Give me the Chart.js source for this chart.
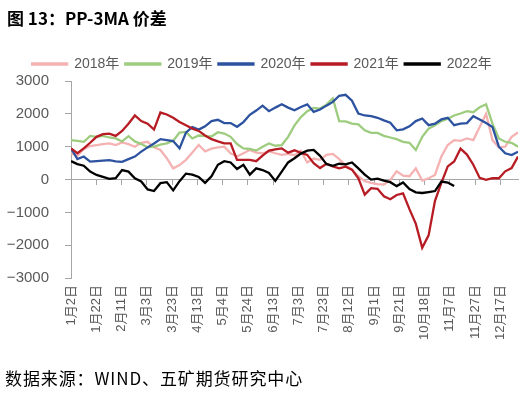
<!DOCTYPE html>
<html>
<head>
<meta charset="utf-8">
<script src="https://cdn.jsdelivr.net/npm/chart.js@4.4.1/dist/chart.umd.min.js"></script>
<style>
  body { margin: 0; background: #fff; }
  #wrap { position: relative; width: 530px; height: 398px; }
  canvas { position: absolute; left: 0; top: 0; }
  #title { position: absolute; left: 7px; top: 5px; font: bold 17px "Noto Sans CJK SC", sans-serif; color: #000; }
  #source { position: absolute; left: 5px; top: 365px; font: 17px "Noto Sans CJK SC", sans-serif; letter-spacing: 0.9px; color: #000; }
</style>
</head>
<body>
<div id="wrap">
  <canvas id="grafico-pp" width="530" height="398"></canvas>
  <div id="title">图 13：PP-3MA 价差</div>
  <div id="source">数据来源：WIND、五矿期货研究中心</div>
</div>
<script>
// tick labels every 20 trading days
var tickLabels = ['1月2日', '1月22日', '2月11日', '3月3日', '3月23日', '4月13日', '5月4日', '5月24日', '6月13日',
                  '7月3日', '7月23日', '8月12日', '9月1日', '9月21日', '10月18日', '11月7日', '11月27日', '12月17日'];
var lastDay = 354;
var step = lastDay / 70; // one value read about every 5 days

var years = ['2018年', '2019年', '2020年', '2021年', '2022年'];
var cores = ['#F4B2B2', '#9DCC7E', '#2C52A0', '#B71C24', '#000000'];

var v2018 = [800, 720, 930, 1020, 1050, 1080, 1100, 1050, 1130, 1080,
             1000, 1120, 1150, 980, 900, 650, 340, 440, 600, 820,
             1050, 860, 940, 980, 1000, 800, 700, 800, 900, 820,
             800, 860, 800, 750, 780, 740, 870, 520, 640, 600,
             750, 780, 620, 430, 300, 100, -50, -100, -140, -150,
             -10, 250, 120, 100, 340, -30, 40, 140, 700, 1050,
             1200, 1180, 1250, 1200, 1600, 2000, 1200, 980, 1000, 1300, 1430];
var v2019 = [1200, 1180, 1150, 1330, 1300, 1330, 1280, 1250, 1160, 1320,
             1160, 1080, 980, 1000, 1060, 1100, 1180, 1430, 1450, 1250,
             1340, 1320, 1310, 1440, 1400, 1300, 1080, 950, 930, 880,
             1000, 1100, 1030, 1050, 1300, 1650, 1900, 2080, 2180, 2160,
             2280, 2470, 1780, 1770, 1700, 1680, 1500, 1420, 1420, 1330,
             1280, 1230, 1150, 1120, 900, 1300, 1550, 1650, 1780, 1850,
             1950, 2010, 2080, 2050, 2200, 2290, 1700, 1250, 1150, 1120, 1000];
var v2020 = [950, 620, 700, 545, 560, 575, 590, 550, 540, 620,
             700, 850, 980, 1100, 1230, 1200, 1170, 950, 1430, 1600,
             1520, 1620, 1780, 1820, 1720, 1720, 1606, 1750, 1970, 2100,
             2250, 2080, 2190, 2290, 2190, 2110, 2210, 2290, 2060, 2130,
             2250, 2363, 2550, 2580, 2400, 2010, 1950, 1930, 1880, 1800,
             1730, 1500, 1530, 1620, 1780, 1858, 1656, 1700, 1830, 1880,
             1656, 1700, 1720, 1930, 1830, 1720, 1600, 1000, 798, 747, 848];
var v2021 = [950, 800, 950, 1120, 1300, 1380, 1400, 1330, 1480, 1700,
             1950, 1780, 1700, 1520, 2040, 1980, 1880, 1750, 1650, 1550,
             1480, 1340, 1230, 1160, 1100, 1100, 600, 596, 600, 560,
             730, 880, 920, 950, 820, 890, 810, 750, 500, 350,
             480, 400, 340, 390, 300, 40, -460, -260, -280, -510,
             -600, -470, -420, -900, -1350, -2080, -1700, -650, -100, 400,
             550, 940, 760, 450, 50, -10, 40, 40, 250, 350, 700];
var v2022 = [560, 470, 420, 242, 140, 80, 20, 40, 290, 240,
             40, -60, -300, -350, -110, -80, -330, -50, 180, 150,
             80, -100, 100, 450, 560, 520, 320, 450, 150, 340,
             290, 200, -40, 240, 520, 650, 790, 880, 900, 720,
             470, 420, 480, 460, 520, 340, 150, 0, 30, -30,
             -80, -200, -90, -290, -390, -410, -380, -350, -60, -90, -200];

var series = [v2018, v2019, v2020, v2021, v2022];
var fonte = '"Liberation Sans", "Noto Sans CJK SC", sans-serif';
var cinza = '#595959';
var eixo = '#A6A6A6';

var datasets = series.map(function (vals, k) {
    return {
        label: years[k],
        data: vals.map(function (v, i) { return { x: i * step, y: v }; }),
        borderColor: cores[k],
        backgroundColor: cores[k],
        borderWidth: 2.3,
        pointRadius: 0,
        tension: 0,
        fill: false,
        xAxisID: 'x',
        order: 5 - k // 2022 drawn on top
    };
});

var ctx = document.getElementById('grafico-pp').getContext('2d');
var meuGrafico = new Chart(ctx, {
    type: 'line',
    data: { datasets: datasets },
    options: {
        responsive: false,
        animation: false,
        layout: { padding: { top: 51, left: 6, right: 12, bottom: 51 } },
        plugins: {
            legend: {
                labels: {
                    boxWidth: 35, boxHeight: 1, padding: 6, color: cinza, font: { size: 14, family: fonte },
                    sort: function (a, b) { return a.datasetIndex - b.datasetIndex; }
                }
            },
            tooltip: { enabled: false }
        },
        scales: {
            x: {
                type: 'linear', min: 0, max: lastDay,
                grid: { display: false, drawTicks: false },
                border: { display: false },
                ticks: {
                    stepSize: 20, autoSkip: false, includeBounds: false,
                    maxRotation: 90, minRotation: 90, padding: 7,
                    color: cinza, font: { size: 13, family: fonte },
                    callback: function (v) { return tickLabels[v / 20] || ''; }
                }
            },
            // eixo no zero com as marcas
            zero: {
                type: 'linear', axis: 'x', position: { y: 0 }, min: 0, max: lastDay,
                ticks: { display: false, stepSize: 20, includeBounds: false },
                grid: { drawOnChartArea: false, tickLength: 5, color: eixo },
                border: { color: eixo }
            },
            y: {
                min: -3000, max: 3000,
                afterFit: function (scale) { scale.width = 65; },
                ticks: {
                    stepSize: 1000, padding: 16, color: cinza, font: { size: 15, family: fonte },
                    callback: function (v) { return String(v).replace('-', '−'); }
                },
                grid: { drawOnChartArea: false, tickLength: 6, color: eixo },
                border: { color: eixo }
            }
        }
    }
});
</script>
</body>
</html>
